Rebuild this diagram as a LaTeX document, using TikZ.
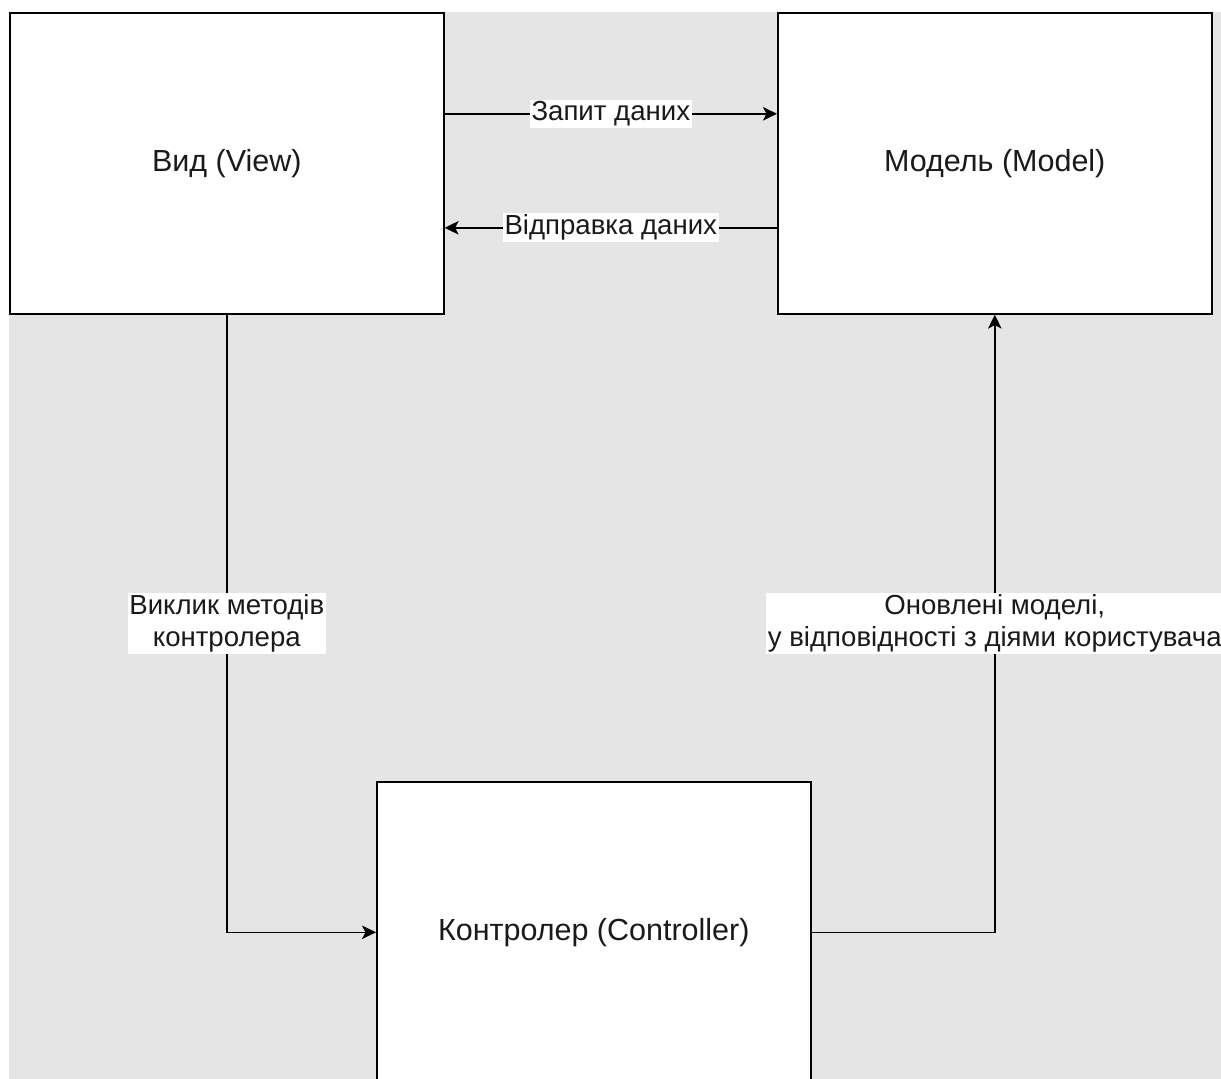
\documentclass[tikz,border=0pt]{standalone}
\usepackage{fontspec}
\setmainfont{Liberation Sans}
\usetikzlibrary{arrows.meta}
\definecolor{canvasgray}{RGB}{229,229,229}
\definecolor{inkdark}{RGB}{26,26,26}
\tikzset{
  block/.style={draw=black, line width=1.6pt, fill=white, minimum width=434pt,
    minimum height=301pt, anchor=north west, inner sep=0pt, text=inkdark,
    font=\fontsize{30.5}{35}\selectfont},
  flow/.style={line width=1.6pt, -{Stealth[length=14pt,width=13.5pt,inset=3.5pt]}},
  lab/.style={fill=white, inner sep=1.5pt, align=center, text=inkdark,
    font=\fontsize{27.6}{32}\selectfont}
}
\begin{document}
\begin{tikzpicture}[x=1pt, y=-1pt]
  \useasboundingbox (0,0) rectangle (1221,1079);
  \clip (0,0) rectangle (1221,1079);
  % canvas
  \fill[canvasgray] (9,12) rectangle (1221,1079);
  % the three MVC blocks
  \node[block] (view)  at (9,12)   {Вид (View)};
  \node[block] (model) at (777,12) {Модель (Model)};
  \node[block] (ctrl)  at (376,781) {Контролер (Controller)};
  % view <-> model
  \draw[flow] ([yshift=49.5pt]view.east) -- ([yshift=49.5pt]model.west)
    node[midway, lab] {Запит даних};
  \draw[flow] ([yshift=-64.5pt]model.west) -- ([yshift=-64.5pt]view.east)
    node[midway, lab] {Відправка даних};
  % view -> controller
  \draw[flow] (view.south) |- (ctrl.west)
    node[pos=0.25, lab] {Виклик методів\\контролера};
  % controller -> model
  \draw[flow] (ctrl.east) -| (model.south)
    node[pos=0.75, lab] {Оновлені моделі,\\у відповідності з діями користувача};
\end{tikzpicture}
\end{document}
